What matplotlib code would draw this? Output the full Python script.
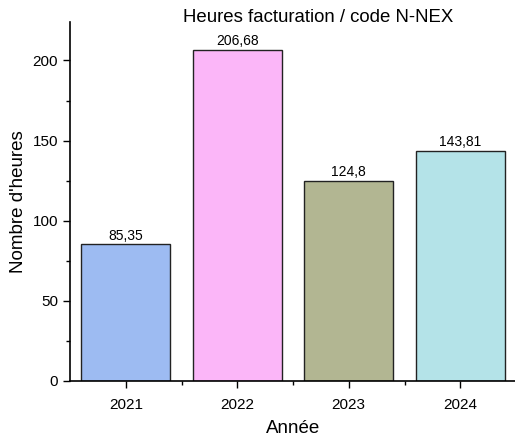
import matplotlib.pyplot as plt
from matplotlib.ticker import MultipleLocator, FixedLocator

plt.rcParams['font.family'] = ['Liberation Sans', 'DejaVu Sans']

years = ['2021', '2022', '2023', '2024']
heures = [85.35, 206.68, 124.8, 143.81]
labels = ['85,35', '206,68', '124,8', '143,81']
colors = ['#9dbbf2', '#fbb6f8', '#b2b692', '#b4e3e8']

fig = plt.figure(figsize=(5.15, 4.38), dpi=100)
ax = fig.add_axes([70 / 515, 57 / 438, 446 / 515, 359 / 438])

x = range(len(years))
bars = ax.bar(x, heures, width=0.8, color=colors, edgecolor='#222222', linewidth=1)
for b, lab in zip(bars, labels):
    ax.text(b.get_x() + b.get_width() / 2, b.get_height() + 1.0, lab,
            ha='center', va='bottom', fontsize=10)

ax.set_xlim(-0.5, 3.5)
ax.set_ylim(0, 224)
ax.set_xticks(list(x))
ax.set_xticklabels(years)
ax.xaxis.set_minor_locator(FixedLocator([0.5, 1.5, 2.5]))
ax.yaxis.set_major_locator(MultipleLocator(50))
ax.yaxis.set_minor_locator(MultipleLocator(25))
ax.tick_params(axis='both', which='major', direction='out', length=5, width=1, labelsize=11)
ax.tick_params(axis='x', which='major', pad=7)
ax.tick_params(axis='both', which='minor', direction='out', length=3, width=1)

for s in ['top', 'right']:
    ax.spines[s].set_visible(False)
for s in ['left', 'bottom']:
    ax.spines[s].set_linewidth(1.2)

ax.set_xlabel('Année', fontsize=13.5, labelpad=6)
ax.set_ylabel("Nombre d'heures", fontsize=13.5, labelpad=4)
fig.text(318 / 515, 1 - 18 / 438, 'Heures facturation / code N-NEX',
         ha='center', va='center', fontsize=13.4)

fig.savefig('out.png', dpi=100)
